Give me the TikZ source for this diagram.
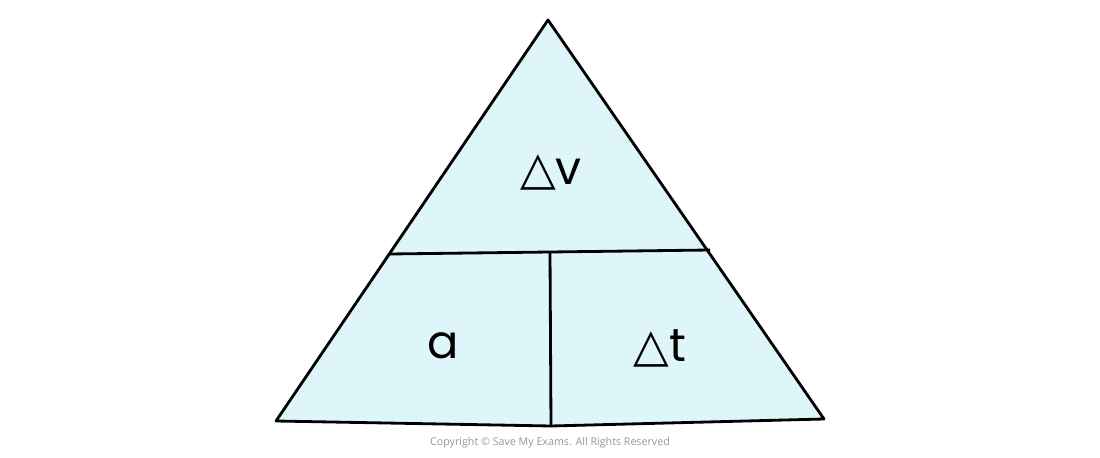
\documentclass[tikz,border=0pt]{standalone}
\usepackage{fontspec}
\setmainfont{Poppins}
\newfontfamily\symfont{DejaVu Sans}
\newfontfamily\notefont{Open Sans}
\usetikzlibrary{calc}

\definecolor{cellfill}{RGB}{222,246,249}
\definecolor{notegrey}{RGB}{150,150,150}

\begin{document}
\begin{tikzpicture}[x=0.025cm, y=-0.025cm]
    \tikzset{
        every path/.style={line width=2pt, line join=round},
        cellLabel/.style={font=\fontsize{33}{38}\selectfont, inner sep=0pt},
        deltaSym/.style={font=\symfont}
    }
    \useasboundingbox (0,0) rectangle (1100,458);

    % corners of the triangle
    \coordinate (Apex) at (548, 20);
    \coordinate (BotLeft) at (276, 421);
    \coordinate (BotMid) at (551, 426);
    \coordinate (BotRight) at (824, 419);

    % ends of the dividing lines
    \coordinate (DivLeft) at (390, 254);
    \coordinate (DivRight) at (710, 250);
    \coordinate (DivMid) at (550, 252);

    % fill and outline
    \fill[cellfill] (Apex) -- (BotRight) -- (BotMid) -- (BotLeft) -- cycle;
    \draw (Apex) -- (BotRight) -- (BotMid) -- (BotLeft) -- cycle;

    % dividers
    \draw (DivLeft) -- (DivMid) -- (DivRight);
    \draw (DivMid) -- (BotMid);

    % labels
    \node[cellLabel] (Velocity) at (551, 172) {{\symfont △}v};
    \node[cellLabel] (Accel) at (443, 346) {a};
    \node[cellLabel] (Time) at (660, 348) {{\symfont △}t};

    % copyright line
    \node[font=\notefont\fontsize{7.6}{9}\selectfont, text=notegrey] (Note) at (550, 443) {Copyright © Save My Exams. All Rights Reserved};
\end{tikzpicture}
\end{document}
